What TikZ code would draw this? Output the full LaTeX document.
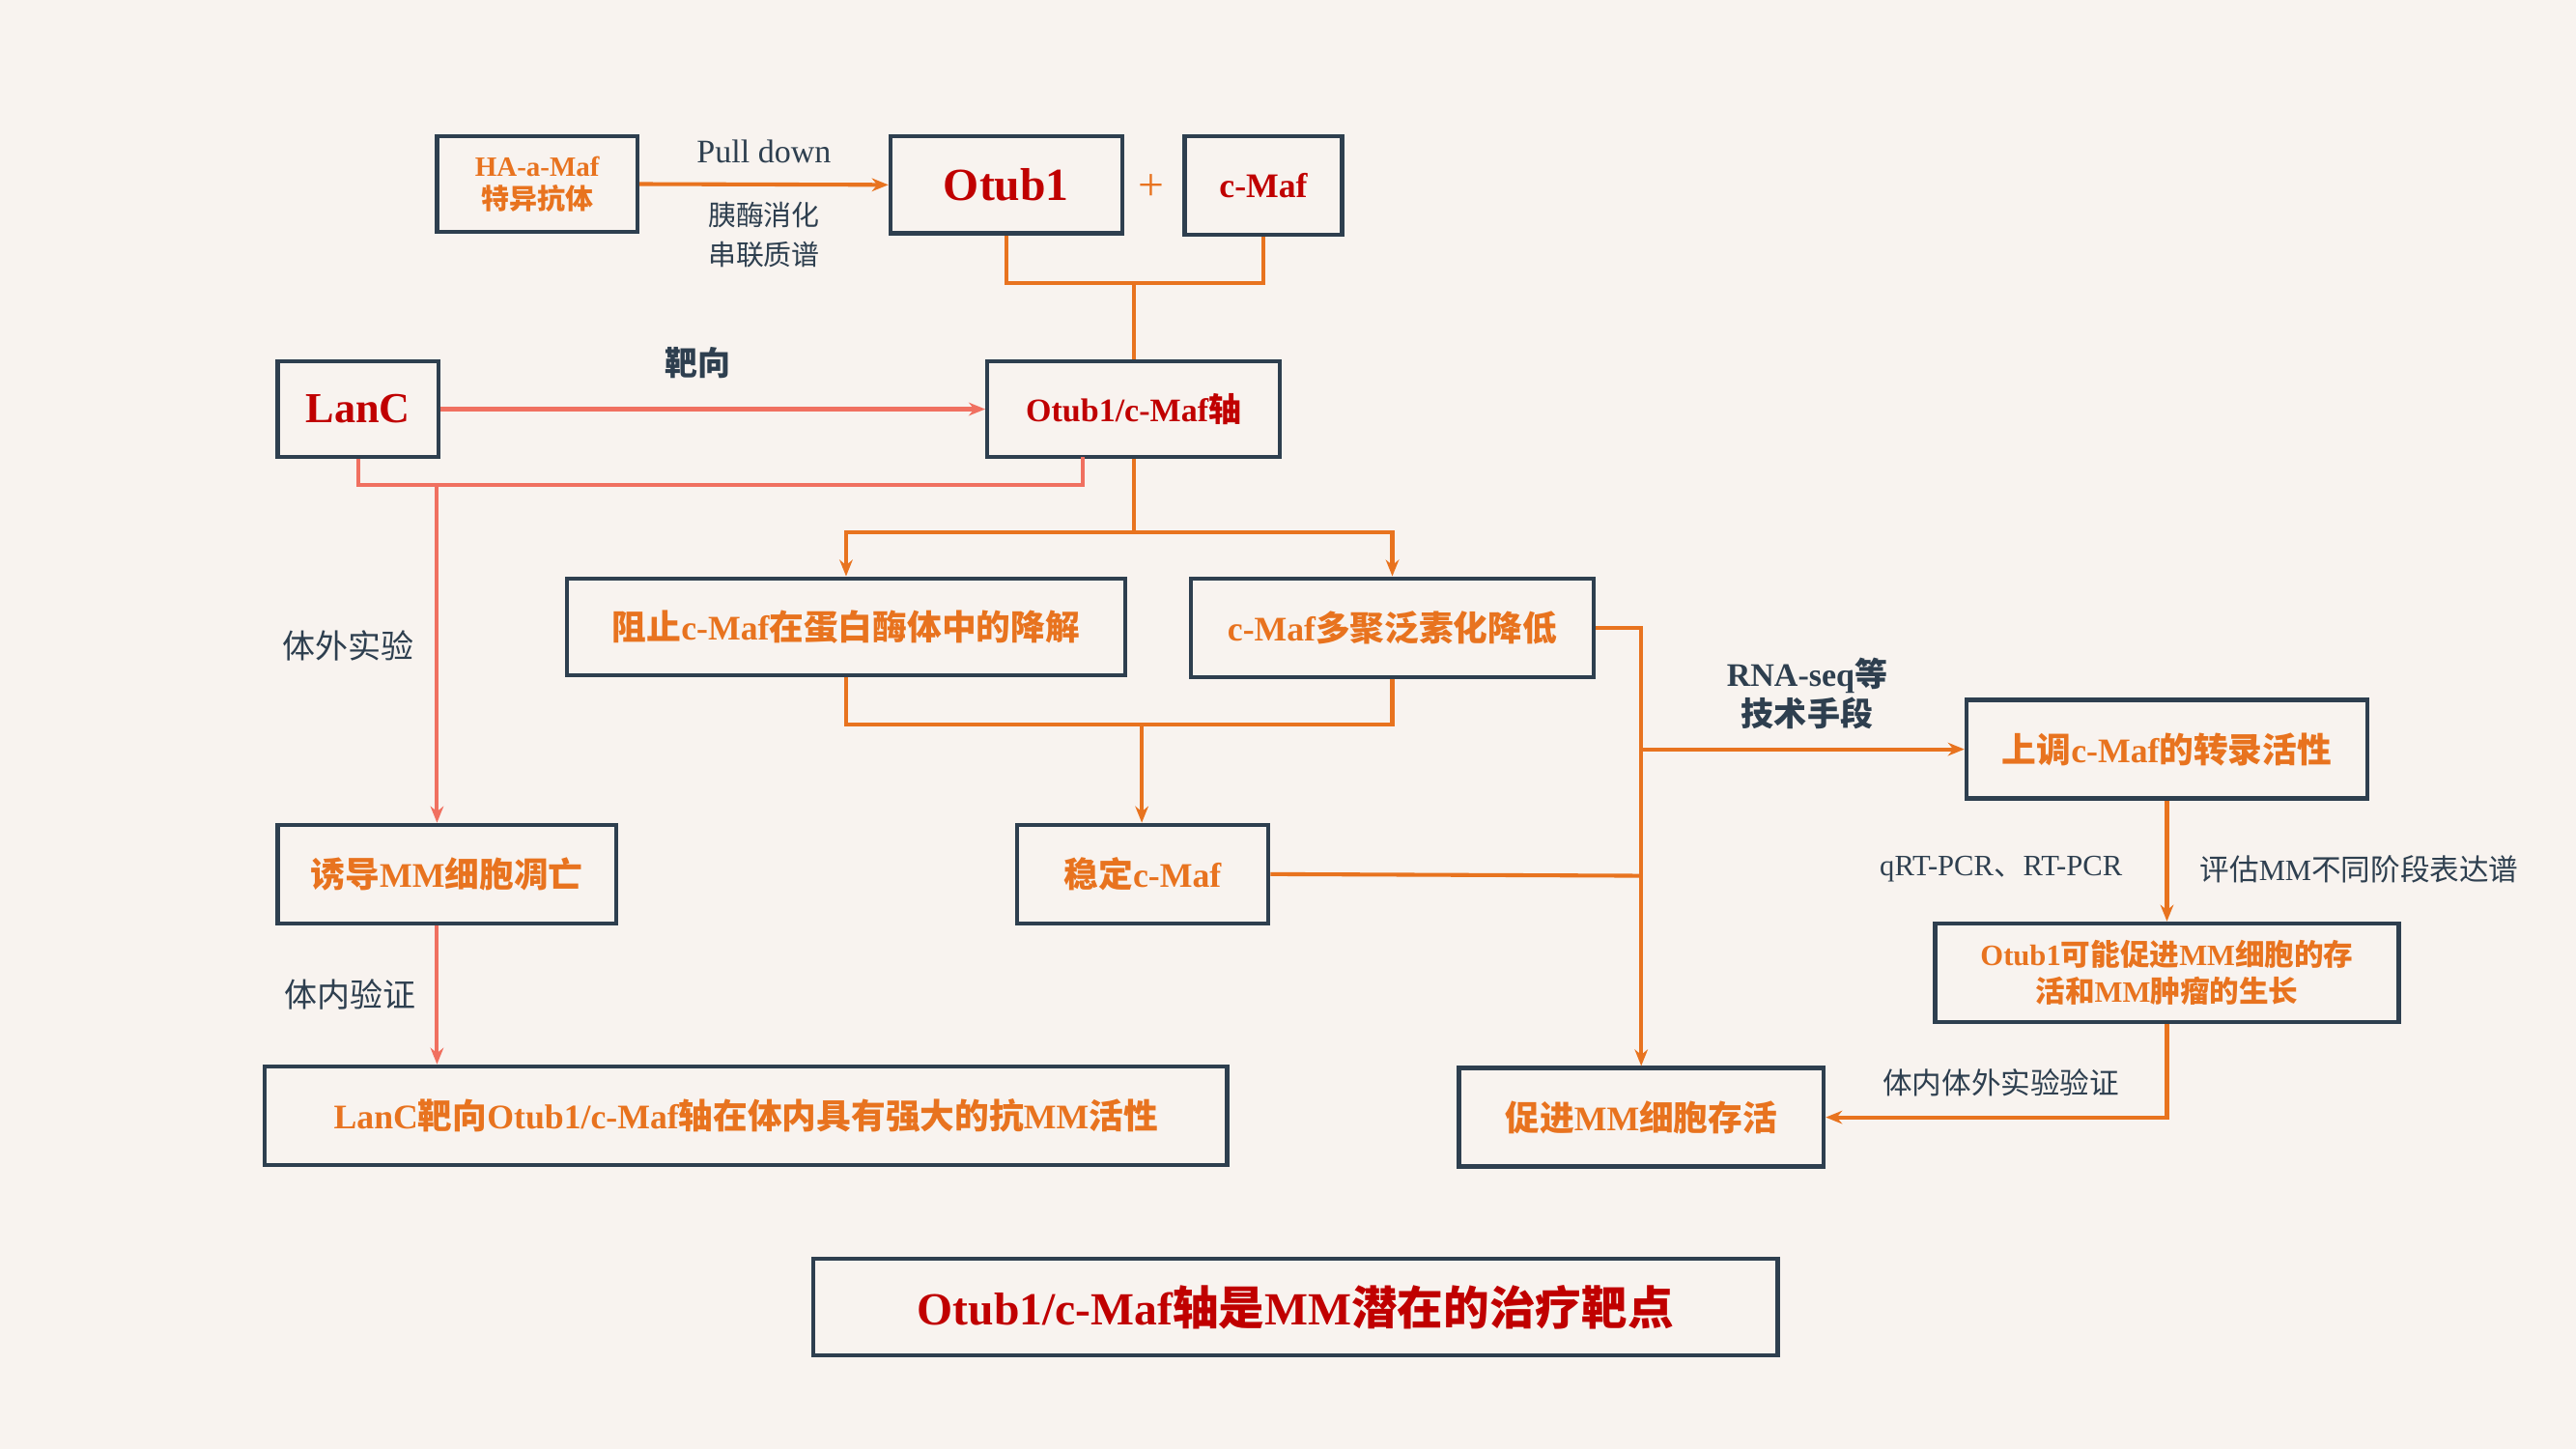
\documentclass[tikz,border=0pt]{standalone}
\usepackage{fontspec}
\usetikzlibrary{arrows.meta}
\setmainfont{Liberation Serif}
\newfontfamily\cjk{Noto Sans CJK SC}
\newcommand{\zh}[1]{{\cjk #1}}
\definecolor{bg}{HTML}{F8F3EF}
\definecolor{dk}{HTML}{2E3F4F}
\definecolor{og}{HTML}{E8731F}
\definecolor{rd}{HTML}{C00000}
\definecolor{sm}{HTML}{F07060}
\begin{document}
\begin{tikzpicture}[x=0.5pt,y=-0.5pt,
 bx/.style={draw=dk,line width=1.3pt,fill=bg,align=center,inner sep=0pt},
 ol/.style={draw=og,line width=1.2pt},
 sl/.style={draw=sm,line width=1.2pt},
 ar/.style={-{Stealth[length=5pt,width=4pt]}},
 lb/.style={text=dk,font=\fontsize{10}{12}\selectfont,align=center}]
\fill[bg] (0,0) rectangle (1568,882);
\useasboundingbox (0,0) rectangle (1568,882);
\newcommand{\bxn}[6]{\node[bx,minimum width=(#4-#2)*0.5pt,minimum height=(#5-#3)*0.5pt,#6] (#1) at ({(#2+#4)/2},{(#3+#5)/2})}
\bxn{ha}{266}{83}{388}{141}{text=og,font=\bfseries\fontsize{8.5}{10}\selectfont}{HA-a-Maf\\\zh{特异抗体}};
\bxn{ot}{542}{83}{683}{142}{text=rd,font=\bfseries\fontsize{14}{16}\selectfont}{Otub1};
\node[text=og,font=\fontsize{14}{16}\selectfont] (plus) at (701,114) {+};
\bxn{cm}{721}{83}{817}{143}{text=rd,font=\bfseries\fontsize{10.5}{12}\selectfont}{c-Maf};
\bxn{lc}{169}{220}{267}{278}{text=rd,font=\bfseries\fontsize{13}{15}\selectfont}{LanC};
\bxn{ax}{601}{220}{779}{278}{text=rd,font=\bfseries\fontsize{10}{12}\selectfont}{Otub1/c-Maf\zh{轴}};
\bxn{bl}{345}{352}{685}{411}{text=og,font=\bfseries\fontsize{10.5}{12}\selectfont}{\zh{阻止}c-Maf\zh{在蛋白酶体中的降解}};
\bxn{po}{725}{352}{970}{412}{text=og,font=\bfseries\fontsize{10.5}{12}\selectfont}{c-Maf\zh{多聚泛素化降低}};
\bxn{up}{1197}{426}{1441}{486}{text=og,font=\bfseries\fontsize{10.5}{12}\selectfont}{\zh{上调}c-Maf\zh{的转录活性}};
\bxn{ap}{169}{502}{375}{562}{text=og,font=\bfseries\fontsize{10.5}{12}\selectfont}{\zh{诱导}MM\zh{细胞凋亡}};
\bxn{st}{619}{502}{772}{562}{text=og,font=\bfseries\fontsize{10.5}{12}\selectfont}{\zh{稳定}c-Maf};
\bxn{op}{1178}{562}{1460}{622}{text=og,font=\bfseries\fontsize{9}{11}\selectfont}{Otub1\zh{可能促进}MM\zh{细胞的存}\\\zh{活和}MM\zh{肿瘤的生长}};
\bxn{lv}{161}{649}{747}{709}{text=og,font=\bfseries\fontsize{10.5}{12}\selectfont}{LanC\zh{靶向}Otub1/c-Maf\zh{轴在体内具有强大的抗}MM\zh{活性}};
\bxn{ps}{888}{650}{1110}{710}{text=og,font=\bfseries\fontsize{10.5}{12}\selectfont}{\zh{促进}MM\zh{细胞存活}};
\bxn{bt}{495}{766}{1082}{825}{text=rd,font=\bfseries\fontsize{14}{16}\selectfont}{Otub1/c-Maf\zh{轴是}MM\zh{潜在的治疗靶点}};
% connectors
\draw[ol,ar] (ha.east) -- (ot.west);
\node[lb] at (465,92) {Pull down};
\node[lb,font=\fontsize{8.5}{12}\selectfont] at (465,143) {\zh{胰酶消化}\\\zh{串联质谱}};
\coordinate (j1) at (690,172);
\draw[ol] (ot.south) |- (j1) -| (cm.south);
\draw[ol] (j1) -- (ax.north);
\draw[sl,ar] (lc.east) -- (ax.west);
\node[lb,font=\bfseries\fontsize{10}{12}\selectfont] at (425,221) {\zh{靶向}};
\coordinate (j2) at (266,295);
\draw[sl] (lc.south) |- (659,295) -- (659,278);
\draw[sl,ar] (j2) -- (ap.north-|j2);
\node[lb] at (212,393) {\zh{体外实验}};
\draw[sl,ar] (ap.south-|j2) -- (lv.north-|j2);
\node[lb] at (213,605) {\zh{体内验证}};
\coordinate (j3) at (690,324);
\draw[ol] (ax.south) -- (j3);
\draw[ol,ar] (j3) -| (bl.north);
\draw[ol,ar] (j3) -| (po.north);
\coordinate (j4) at (695,441);
\draw[ol] (bl.south) |- (j4) -| (po.south);
\draw[ol,ar] (j4) -- (st.north-|j4);
\coordinate (j5) at (999,456);
\draw[ol,ar] (po.east) -| (ps.north-|j5);
\draw[ol,ar] (j5) -- (up.west);
\node[lb,font=\bfseries\fontsize{10}{12}\selectfont] at (1100,422) {RNA-seq\zh{等}\\\zh{技术手段}};
\draw[ol] (st.east) -- (999,533);
\draw[ol,ar] (up.south) -- (op.north);
\node[lb,font=\fontsize{9}{11}\selectfont] at (1218,529) {qRT-PCR\zh{、}RT-PCR};
\node[lb,font=\fontsize{9}{11}\selectfont] at (1436,529) {\zh{评估}MM\zh{不同阶段表达谱}};
\draw[ol,ar] (op.south) |- (ps.east);
\node[lb,font=\fontsize{9}{11}\selectfont] at (1218,659) {\zh{体内体外实验验证}};
\end{tikzpicture}
\end{document}
